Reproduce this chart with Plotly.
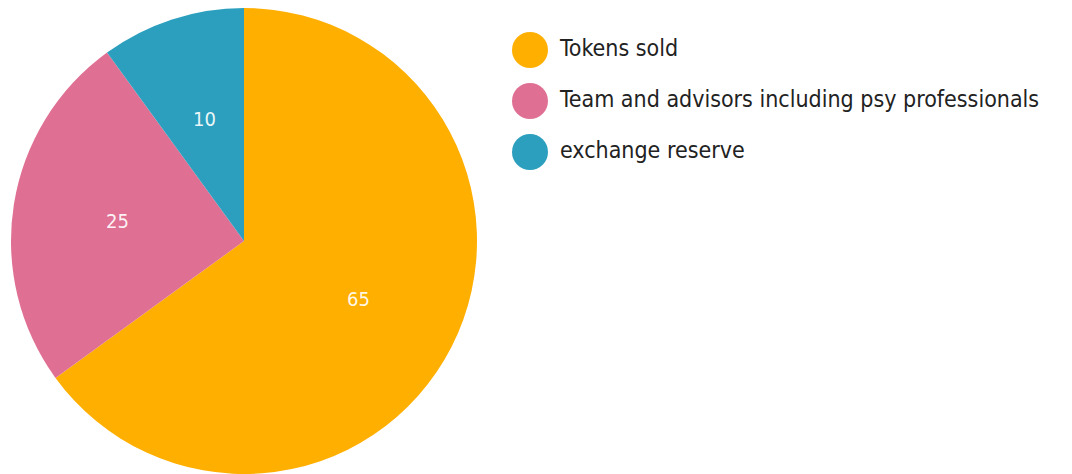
import math
import plotly.graph_objects as go

labels = ["Tokens sold", "Team and advisors including psy professionals", "exchange reserve"]
values = [65, 25, 10]
colors = ["#FFAF00", "#DF7093", "#2C9FBE"]

W, H = 1072, 474
OFF = 8  # page body margin
FONT = "DejaVu Sans Condensed, DejaVu Sans, sans-serif"

# pie geometry (figure pixels)
CX, CY, R = 236, 233, 233

fig = go.Figure()
fig.add_trace(go.Pie(
    labels=labels, values=values, sort=False, direction="clockwise", rotation=0,
    marker=dict(colors=colors, line=dict(width=0)),
    textinfo="none",
    domain=dict(x=[(CX - R) / W, (CX + R) / W], y=[(H - (CY + R)) / H, (H - (CY - R)) / H]),
    showlegend=False, hoverinfo="label+value+percent",
))

# slice value labels at ~0.55R on each slice bisector (annotations sit above the pie layer)
total = sum(values)
cum = 0
for v in values:
    mid = (cum + v / 2) / total * 2 * math.pi
    cum += v
    fig.add_annotation(
        x=CX + 0.55 * R * math.sin(mid), y=CY - 0.55 * R * math.cos(mid),
        xref="x", yref="y", text=str(v), showarrow=False,
        font=dict(size=20, color="rgba(255,255,255,0.92)", family=FONT),
    )

# legend
ly0, lstep = 50 - OFF, 51
leg_y = [ly0 + lstep * i for i in range(len(labels))]
fig.add_trace(go.Scatter(
    x=[530 - OFF] * len(labels), y=leg_y, mode="markers",
    marker=dict(size=36, color=colors, symbol="circle"),
    showlegend=False, hoverinfo="skip",
))
fig.add_trace(go.Scatter(
    x=[560 - OFF] * len(labels), y=leg_y, mode="text", text=labels,
    textposition="middle right",
    textfont=dict(size=23, color="#222222", family=FONT),
    showlegend=False, hoverinfo="skip",
))

fig.update_layout(
    width=W, height=H,
    margin=dict(l=0, r=0, t=0, b=0),
    paper_bgcolor="white", plot_bgcolor="rgba(0,0,0,0)",
    xaxis=dict(range=[0, W], visible=False, fixedrange=True),
    yaxis=dict(range=[H, 0], visible=False, fixedrange=True),
)

fig.write_html("out.html")
